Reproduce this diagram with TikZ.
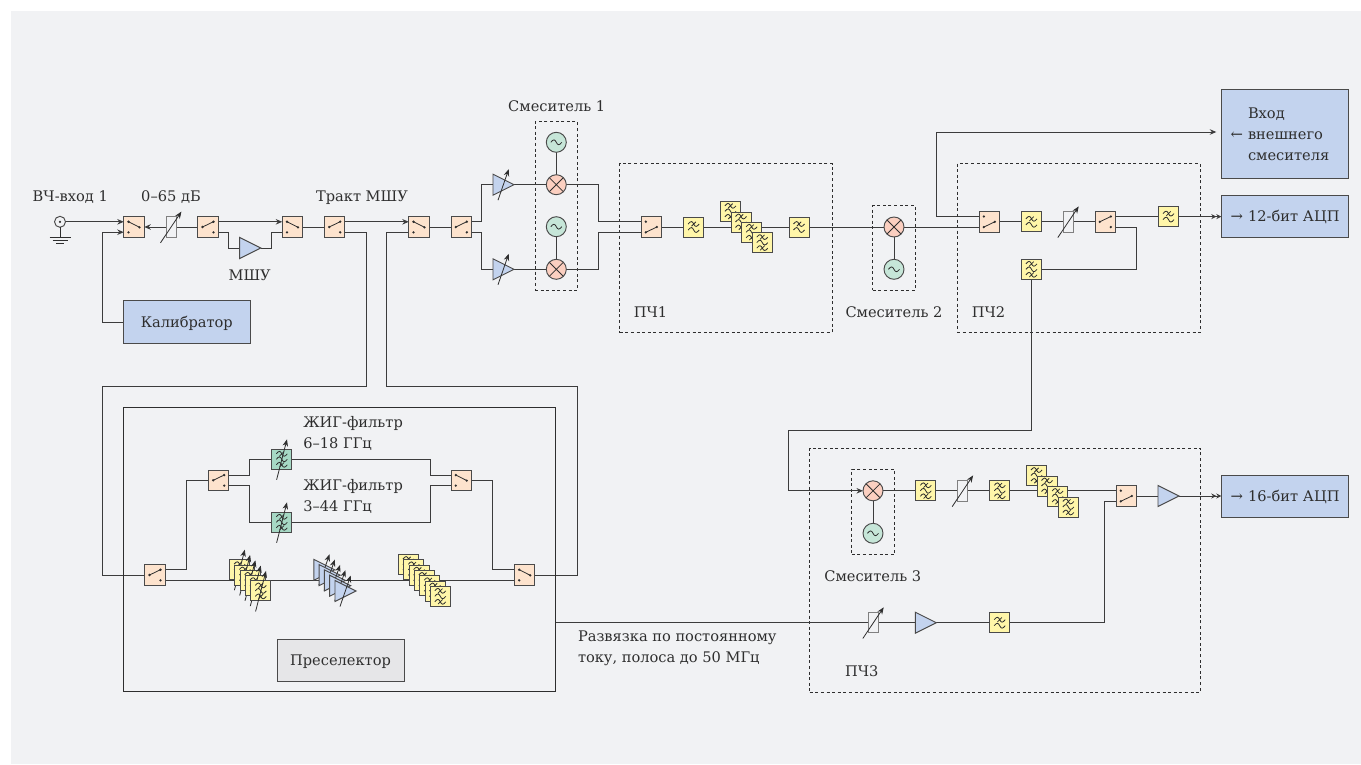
\documentclass[tikz,border=0pt]{standalone}
\usepackage{fontspec}
\setmainfont{DejaVu Serif}
\usetikzlibrary{arrows.meta,shapes.geometric}
\definecolor{pagebg}{HTML}{F1F2F4}
\definecolor{edge}{HTML}{4A4A4A}
\definecolor{ink}{HTML}{2E2E2E}
\definecolor{wire}{HTML}{3C3C3C}
\definecolor{peach}{HTML}{FDE3CD}
\definecolor{yellowf}{HTML}{FFF6A9}
\definecolor{yigf}{HTML}{A6D8C4}
\definecolor{bluef}{HTML}{C3D3EE}
\definecolor{pinkf}{HTML}{FBCFC0}
\definecolor{logreen}{HTML}{C6E6D8}
\definecolor{greyf}{HTML}{E6E6E8}
\pgfdeclarelayer{back}
\pgfdeclarelayer{conn}
\pgfsetlayers{back,conn,main}
\newcommand\Up[1]{([shift={(0,-5.2)}]#1)}
\newcommand\Dn[1]{([shift={(0,5.2)}]#1)}
\newcommand\tune[1]{\draw[tunearrow] ([shift={(-5.2,20.5)}]#1.center) -- ([shift={(5.2,-20)}]#1.center);}
\newcommand\tuneatt[1]{\draw[tunearrow] ([shift={(-10.5,15.8)}]#1.center) -- ([shift={(10.4,-15.4)}]#1.center);}
\newcommand\tuneamp[1]{\draw[tunearrow] ([shift={(-16,15.5)}]#1.apex) -- ([shift={(-5.3,-15.5)}]#1.apex);}
\def\wv#1{(-5.5,#1) .. controls (-3,#1-3.2) and (-1.5,#1-3.2) .. (0,#1) .. controls (1.5,#1+3.2) and (3,#1+3.2) .. (5.5,#1)}
\def\tick#1{(-2.2,#1+2.2) -- (2.2,#1-2.2)}
\newcommand\swsym[3]{%
  \draw[symline,shift={(path picture bounding box.center)}] #1 -- #2;
  \fill[ink,shift={(path picture bounding box.center)}] #1 circle (1.3) #2 circle (1.3) #3 circle (1.3);}
\newcommand\txt{\fontsize{14.6}{21}\selectfont}
\newcommand\arrtxt{\fontsize{14.8}{21}\selectfont}
\tikzset{
  blk/.style={rectangle,draw=edge,line width=.95pt,inner sep=0,outer sep=0},
  symline/.style={draw=ink,line width=.8pt},
  wirel/.style={draw=wire,line width=.95pt},
  arr/.style={wirel,-{Stealth[length=6.5pt,width=5.5pt]}},
  darr/.style={wirel,-{Stealth[length=5pt,width=5pt]Stealth[length=5pt,width=5pt]}},
  tunearrow/.style={draw=ink,line width=.8pt,-{Stealth[length=7pt,width=5.5pt]}},
  swiu/.style={blk,minimum size=20.5pt,fill=peach,path picture={\swsym{(-5.5,-5.3)}{(5.5,.3)}{(-5.5,5.3)}}},
  swid/.style={blk,minimum size=20.5pt,fill=peach,path picture={\swsym{(-5.5,5.3)}{(5.5,0)}{(-5.5,-5.3)}}},
  swou/.style={blk,minimum size=20.5pt,fill=peach,path picture={\swsym{(-5.5,0)}{(5.5,-5.3)}{(5.5,5.3)}}},
  filtA/.style={blk,minimum size=20pt,fill=yellowf,path picture={\draw[symline,shift={(path picture bounding box.center)}] \wv{-3} \wv{3} \tick{-3};}},
  filtB/.style={blk,minimum size=20pt,fill=yellowf,path picture={\draw[symline,shift={(path picture bounding box.center)}] \wv{-5.5} \wv{0} \wv{5.5} \tick{-5.5} \tick{5.5};}},
  yigfilt/.style={blk,minimum size=20pt,fill=yigf,path picture={\draw[symline,shift={(path picture bounding box.center)}] \wv{-5.5} \wv{0} \wv{5.5} \tick{-5.5} \tick{5.5};}},
  attbox/.style={rectangle,draw=edge!70,line width=.95pt,fill=pagebg,inner sep=0,outer sep=0,minimum width=10pt,minimum height=20.5pt},
  ampl/.style={isosceles triangle,isosceles triangle stretches,shape border rotate=0,draw=edge,line width=.95pt,fill=bluef,inner sep=0,outer sep=0,minimum width=21pt,minimum height=21pt,anchor=apex},
  mixr/.style={circle,draw=edge,line width=.95pt,fill=pinkf,inner sep=0,outer sep=0,minimum size=20pt,path picture={\draw[symline] (path picture bounding box.north west)--(path picture bounding box.south east) (path picture bounding box.north east)--(path picture bounding box.south west);}},
  osc/.style={circle,draw=edge,line width=.95pt,fill=logreen,inner sep=0,outer sep=0,minimum size=20pt,path picture={\draw[symline,shift={(path picture bounding box.center)}] \wv{0};}},
  dashbox/.style={rectangle,draw=ink,dash pattern=on 3pt off 2.6pt,line width=.8pt,inner sep=0,outer sep=0},
  mainbox/.style={rectangle,draw=edge,line width=.95pt,fill=bluef,inner sep=0,outer sep=0,text=ink,font=\txt},
  lbl/.style={inner sep=0,outer sep=0,text=ink,font=\txt,anchor=base},
  lblw/.style={inner sep=0,outer sep=0,text=ink,font=\txt,anchor=west,align=left},
}
\begin{document}
\begin{tikzpicture}[x=1pt,y=-1pt]
\useasboundingbox (0,0) rectangle (1361,764);
\begin{pgfonlayer}{back}
\fill[pagebg] (11,11) rectangle (1361,764);
\end{pgfonlayer}

% --- top chain
\node[circle,draw=edge,line width=.95pt,fill=pagebg,inner sep=0,outer sep=0,minimum size=11pt] (rfin) at (60,221.8) {};
\fill[ink] (rfin.center) circle (1.2);
\coordinate (gnd) at (60,237.6);
\draw[symline] (rfin.south) -- (gnd) ([xshift=-10.5pt]gnd) -- ([xshift=10.5pt]gnd);
\draw[symline] ([shift={(-7.5,2.8)}]gnd) -- ([shift={(7.5,2.8)}]gnd) ([shift={(-3.7,5.6)}]gnd) -- ([shift={(3.7,5.6)}]gnd);

\node[swiu] (sw1) at (134,227) {};
\node[attbox] (att1) at (171,227) {}; \tuneatt{att1}
\node[swou] (sw2) at (208,227) {};
\node[ampl] (lna) at (260.7,248) {};
\node[swiu] (sw3) at (292.5,227) {};
\node[swou] (sw4) at (334.7,227) {};
\node[mainbox,minimum width=127pt,minimum height=42.5pt,text height=10.6pt,text depth=0pt] (cal) at (186.8,322) {Калибратор};
\node[swiu] (sw5) at (419,227) {};
\node[swou] (sw6) at (461.3,227) {};
\node[ampl] (ampu) at (514,184.7) {}; \tuneamp{ampu}
\node[ampl] (ampd) at (514,269.3) {}; \tuneamp{ampd}
\node[mixr] (mixu) at (556.3,184.7) {};
\node[osc] (lou) at (556.3,142.3) {};
\node[mixr] (mixl) at (556.3,269.3) {};
\node[osc] (lol) at (556.3,226.7) {};
\node[swid] (sw7) at (651.3,227) {};
\node[filtA] (f1) at (693.7,227) {};
\node[filtB] (sa) at (730.5,211.3) {};
\node[filtB] (sb) at (741,222) {};
\node[filtB] (sc) at (751.6,232.3) {};
\node[filtB] (sd) at (762.3,242.6) {};
\node[filtA] (f2) at (799,227) {};
\node[mixr] (mix2) at (894,227) {};
\node[osc] (lo2) at (894,269.3) {};
\node[swid] (sw8) at (989.3,221.8) {};
\node[filtA] (f3) at (1031.5,221.8) {};
\node[attbox] (att2) at (1068.3,221.8) {}; \tuneatt{att2}
\node[swou] (sw9) at (1105.3,221.8) {};
\node[filtA] (f4) at (1168.5,216.6) {};
\node[filtB] (f5) at (1031.5,269.3) {};

\node[mainbox,minimum width=127pt,minimum height=89.5pt,text width=127pt,align=left] (vh) at (1284.8,134.2)
  {\hspace*{26.7pt}Вход\\\hspace*{26.7pt}\llap{\arrtxt ←\hspace{5pt}}внешнего\\\hspace*{26.7pt}смесителя};
\node[mainbox,minimum width=127pt,minimum height=42pt,text width=127pt,align=left,text height=10.6pt,text depth=0pt] (adc12) at (1284.8,216.6)
  {\hspace*{26.7pt}\llap{\arrtxt →\hspace{5pt}}12-бит АЦП};
\node[mainbox,minimum width=127pt,minimum height=42pt,text width=127pt,align=left,text height=10.6pt,text depth=0pt] (adc16) at (1284.8,496)
  {\hspace*{26.7pt}\llap{\arrtxt →\hspace{5pt}}16-бит АЦП};

% --- third IF
\node[mixr] (mix3) at (873,490.8) {};
\node[osc] (lo3) at (873,533.3) {};
\node[filtB] (f6) at (925.8,490.8) {};
\node[attbox] (att3) at (962.7,490.8) {}; \tuneatt{att3}
\node[filtB] (f7) at (999.8,490.8) {};
\node[filtB] (ta) at (1036.5,475.5) {};
\node[filtB] (tb) at (1047,486) {};
\node[filtB] (tc) at (1057.6,496.5) {};
\node[filtB] (td) at (1068.3,507) {};
\node[swid] (sw10) at (1126.3,496) {};
\node[ampl] (amp3) at (1179,496) {};
\node[attbox] (att4) at (873.3,622.7) {}; \tuneatt{att4}
\node[ampl] (amp4) at (936.3,622.7) {};
\node[filtA] (f8) at (999.7,622.7) {};

% --- preselector
\node[blk,draw=ink,minimum width=432pt,minimum height=284pt] (presel) at (339,549) {};
\node[blk,fill=greyf,minimum width=127pt,minimum height=42pt,text=ink,font=\txt,text height=10.6pt,text depth=0pt] (preslab) at (340.5,660) {Преселектор};
\node[swou] (swa) at (155,575) {};
\node[swou] (swb) at (218.7,480.3) {};
\node[swiu] (swc) at (461.3,480.3) {};
\node[swiu] (swd) at (524.7,575) {};
\node[yigfilt] (y1) at (281.8,459.3) {}; \tune{y1}
\node[yigfilt] (y2) at (281.8,522.3) {}; \tune{y2}
\foreach \i in {0,...,4}{
  \node[filtB] (sv\i) at (239.6+5.3*\i,569.7+5.3*\i) {};
  \tune{sv\i}
}
\foreach \i in {0,...,4}{
  \node[ampl] (av\i) at (334.8+5.3*\i,569.8+5.3*\i) {};
  \tuneamp{av\i}
}
\foreach \i in {0,...,6}{
  \node[filtB] (sf\i) at (408.5+5.3*\i,564.5+5.3*\i) {};
}

% --- dashed groups
\begin{pgfonlayer}{conn}
\node[dashbox,minimum width=42.3pt,minimum height=168.6pt] (gm1) at (556.2,206) {};
\node[dashbox,minimum width=212.5pt,minimum height=169pt] (gif1) at (726,248) {};
\node[dashbox,minimum width=42.6pt,minimum height=84.6pt] (gm2) at (894,248) {};
\node[dashbox,minimum width=243pt,minimum height=169pt] (gif2) at (1078.8,247.8) {};
\node[dashbox,minimum width=43pt,minimum height=85pt] (gm3) at (873.2,511.8) {};
\node[dashbox,minimum width=390.6pt,minimum height=244pt] (gif3) at (1005,570) {};

% --- connectors
\coordinate (c1) at (366,386);
\coordinate (c2) at (102.3,386);
\coordinate (c3) at (386,386);
\coordinate (c4) at (577,386);
\coordinate (c5) at (936.3,132);
\coordinate (c6) at (1031.5,430);
\coordinate (c7) at (788,430);
\draw[arr] (rfin.east) -- (sw1.west |- rfin.east);
\draw[arr] (cal.west) -- ++(-21,0) |- \Dn{sw1.west};
\draw[arr] (att1.west) -- (sw1.east);
\draw[wirel] (sw2.west) -- (att1.east);
\draw[arr] \Up{sw2.east} -- \Up{sw3.west};
\draw[wirel] \Dn{sw2.east} -- ++(10.6,0) |- (lna.lower side);
\draw[wirel] (lna.apex) -- ++(10.3,0) |- \Dn{sw3.west};
\draw[wirel] (sw3.east) -- (sw4.west);
\draw[arr] \Up{sw4.east} -- \Up{sw5.west};
\draw[wirel] \Dn{sw4.east} -| (c1) -- (c2) |- (swa.west);
\draw[wirel] \Dn{sw5.west} -| (c3) -- (c4) |- (swd.east);
\draw[wirel] (sw5.east) -- (sw6.west);
\draw[wirel] \Up{sw6.east} -- ++(10.4,0) |- (ampu.lower side);
\draw[wirel] \Dn{sw6.east} -- ++(10.4,0) |- (ampd.lower side);
\draw[wirel] (ampu.apex) -- (mixu.west);
\draw[wirel] (ampd.apex) -- (mixl.west);
\draw[wirel] (mixu.north) -- (lou.south);
\draw[wirel] (mixl.north) -- (lol.south);
\draw[wirel] (mixu.east) -- ++(32.4,0) |- \Up{sw7.west};
\draw[wirel] (mixl.east) -- ++(32.4,0) |- \Dn{sw7.west};
\draw[wirel] (sw7.east) -- (f1.west);
\draw[wirel] (f1.east) -- (f2.west);
\draw[wirel] (f2.east) -- (mix2.west);
\draw[wirel] (mix2.south) -- (lo2.north);
\draw[wirel] (mix2.east) -- \Dn{sw8.west};
\draw[arr,shorten >=5pt] \Up{sw8.west} -| (c5) -- (vh.west |- c5);
\draw[wirel] (sw8.east) -- (f3.west);
\draw[wirel] (f3.east) -- (att2.west);
\draw[wirel] (att2.east) -- (sw9.west);
\draw[wirel] \Up{sw9.east} -- (f4.west);
\draw[darr] (f4.east) -- (adc12.west);
\draw[wirel] \Dn{sw9.east} -- ++(20.9,0) |- (f5.east);
\draw[arr] (f5.south) -- (c6) -- (c7) |- (mix3.west);
\draw[wirel] (mix3.south) -- (lo3.north);
\draw[wirel] (mix3.east) -- (f6.west);
\draw[wirel] (f6.east) -- (att3.west);
\draw[wirel] (att3.east) -- (f7.west);
\draw[wirel] (f7.east) -- \Up{sw10.west};
\draw[wirel] (sw10.east) -- (amp3.lower side);
\draw[darr] (amp3.apex) -- (adc16.west);
\draw[wirel] (presel.east |- att4.west) -- (att4.west);
\draw[wirel] (att4.east) -- (amp4.lower side);
\draw[wirel] (amp4.apex) -- (f8.west);
\draw[wirel] (f8.east) -- ++(94.9,0) |- \Dn{sw10.west};
\draw[wirel] \Up{swa.east} -- ++(21,0) |- (swb.west);
\draw[wirel] \Dn{swa.east} -- \Dn{swd.west};
\draw[wirel] \Up{swb.east} -- ++(21,0) |- (y1.west);
\draw[wirel] \Dn{swb.east} -- ++(21,0) |- (y2.west);
\draw[wirel] \Up{swc.west} -- ++(-21,0) |- (y1.east);
\draw[wirel] \Dn{swc.west} -- ++(-21,0) |- (y2.east);
\draw[wirel] (swc.east) -- ++(21,0) |- \Up{swd.west};
\end{pgfonlayer}

% --- labels
\node[lbl] (t1) at (70.3,201.3) {ВЧ-вход 1};
\node[lbl] (t2) at (171,201.3) {0–65 дБ};
\node[lbl] (t3) at (362,201.3) {Тракт МШУ};
\node[lbl] (t4) at (249.7,280.3) {МШУ};
\node[lbl] (t5) at (556.7,111) {Смеситель 1};
\node[lbl] (t6) at (650.5,317) {ПЧ1};
\node[lbl] (t7) at (894,317) {Смеситель 2};
\node[lbl] (t8) at (988.5,317) {ПЧ2};
\node[lbl] (t9) at (872.8,581) {Смеситель 3};
\node[lbl] (t10) at (861.7,676) {ПЧ3};
\node[lblw] (t11) at (303.3,433.8) {ЖИГ-фильтр\\6–18 ГГц};
\node[lblw] (t12) at (303.3,496.8) {ЖИГ-фильтр\\3–44 ГГц};
\node[lblw] (t13) at (578,648.5) {Развязка по постоянному\\току, полоса до 50 МГц};
\end{tikzpicture}
\end{document}
